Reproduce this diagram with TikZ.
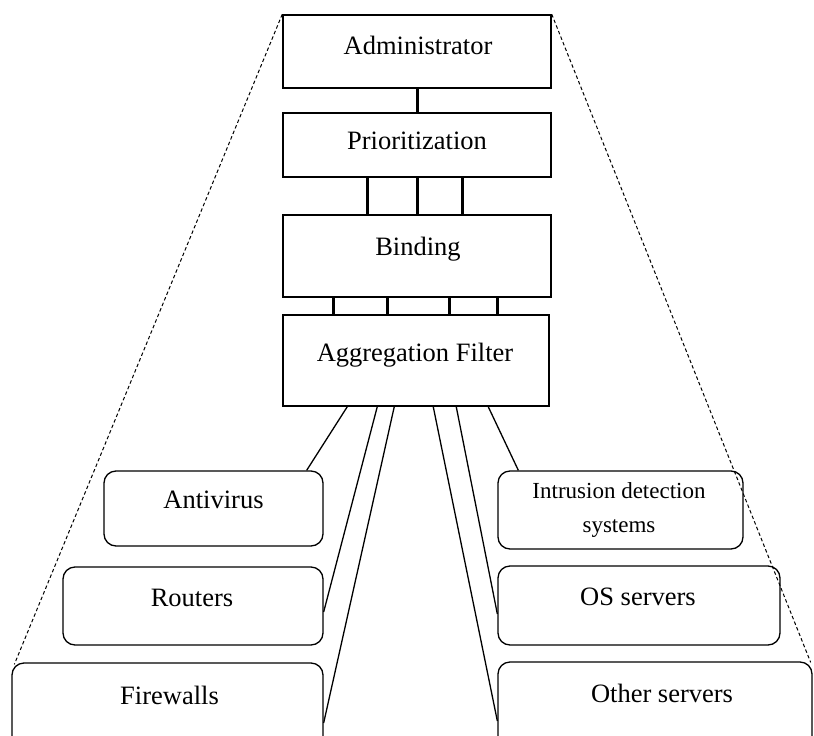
\documentclass[tikz,border=0pt]{standalone}
\usepackage{fontspec}
\setmainfont{Liberation Serif}
\begin{document}
\begin{tikzpicture}[x=1pt,y=-1pt,
  layerbox/.style={draw, line width=1.5pt, inner sep=0pt},
  srcbox/.style={draw, line width=1.3pt, rounded corners=12pt, inner sep=0pt},
  lbl/.style={font=\fontsize{26.5}{30}\selectfont, inner sep=0pt, anchor=center},
  smlbl/.style={font=\fontsize{23}{34}\selectfont, inner sep=0pt, align=center, anchor=center},
  bus/.style={line width=3pt},
  feed/.style={line width=1.3pt},
  hull/.style={line width=1pt, dash pattern=on 3.5pt off 2.5pt}]
\useasboundingbox (0,0) rectangle (814,736);

% layered boxes
\node[layerbox, minimum width=268pt, minimum height=73pt] (adm) at (417,51.5) {};
\node[layerbox, minimum width=268pt, minimum height=64pt] (prio) at (417,145) {};
\node[layerbox, minimum width=268pt, minimum height=82pt] (bind) at (417,256) {};
\node[layerbox, minimum width=266pt, minimum height=91pt] (agg) at (416,360.5) {};

\node[lbl] (admT) at (418,45) {Administrator};
\node[lbl] (prioT) at (417,141) {Prioritization};
\node[lbl] (bindT) at (418,249) {Binding};
\node[lbl] (aggT) at (415,355) {Aggregation Filter};

% source boxes
\node[srcbox, minimum width=219pt, minimum height=75pt] (anti) at (213.5,508.5) {};
\node[srcbox, minimum width=260pt, minimum height=78pt] (rout) at (193,606) {};
\node[srcbox, minimum width=311pt, minimum height=90pt] (fire) at (167.5,708) {};
\node[srcbox, minimum width=245pt, minimum height=78pt] (ids) at (620.5,510) {};
\node[srcbox, minimum width=282pt, minimum height=79pt] (os) at (639,605.5) {};
\node[srcbox, minimum width=314pt, minimum height=90pt] (oth) at (655,707) {};

\node[lbl] (antiT) at (213.5,500) {Antivirus};
\node[lbl] (routT) at (192,598) {Routers};
\node[lbl] (fireT) at (169.5,695) {Firewalls};
\node[smlbl] (idsT) at (619,510) {Intrusion detection\\systems};
\node[lbl] (osT) at (638,597) {OS servers};
\node[lbl] (othT) at (662,693) {Other servers};

% dashed hull
\draw[hull] (adm.north west) -- ([xshift=3pt,yshift=-2pt]fire.north west);
\draw[hull] (adm.north east) -- ([xshift=-2pt,yshift=-1pt]oth.north east);

% buses
\draw[bus] (adm.south) -- (prio.north);
\foreach \dx in {-50,0,45}
  \draw[bus] ([xshift=\dx pt]prio.south) -- ([xshift=\dx pt]bind.north);
\draw[bus] ([xshift=-84pt]bind.south) -- ([xshift=-83pt]agg.north);
\draw[bus] ([xshift=-30pt]bind.south) -- ([xshift=-29pt]agg.north);
\draw[bus] ([xshift=32pt]bind.south) -- ([xshift=33pt]agg.north);
\draw[bus] ([xshift=80pt]bind.south) -- ([xshift=81pt]agg.north);

% feeds from aggregation filter
\draw[feed] ([xshift=65pt]agg.south west) -- ([xshift=-17pt]anti.north east);
\draw[feed] ([xshift=95pt]agg.south west) -- ([yshift=-6pt]rout.east);
\draw[feed] ([xshift=112pt]agg.south west) -- ([yshift=-15pt]fire.east);
\draw[feed] ([xshift=151pt]agg.south west) -- ([yshift=-14pt]oth.west);
\draw[feed] ([xshift=174pt]agg.south west) -- ([yshift=-8.5pt]os.west);
\draw[feed] ([xshift=206pt]agg.south west) -- ([xshift=21pt]ids.north west);
\end{tikzpicture}
\end{document}
